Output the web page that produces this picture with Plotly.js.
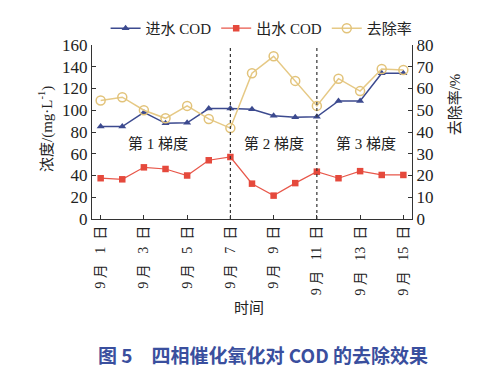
<!DOCTYPE html>
<html>
<head>
<meta charset="utf-8">
<script src="https://cdn.plot.ly/plotly-3.0.1.min.js"></script>
<style>html,body{margin:0;padding:0;background:#fff;}#chart{width:489px;height:379px;}</style>
</head>
<body>
<div id="chart"></div>
<script>
const days = [1,2,3,4,5,6,7,8,9,10,11,12,13,14,15];
const tickDays = [1,3,5,7,9,11,13,15];
const tickLabels = tickDays.map(d => '9\u00a0月\u00a0\u00a0\u00a0' + d + '\u00a0\u00a0日');
const inflowCOD = [85,85,98,88,88.5,101.5,101.5,101,95,93.5,94,108.5,108.5,134,134];
const outflowCOD = [37.5,36.5,47.5,46,40,54,57,32.5,21.5,33,43.5,37.5,44,40.5,40.5];
const removalRate = [54.5,56,50,46.3,52,46,41.8,67,74.8,63.5,52,64.5,58.8,69,68.5];
const stageLabels = ['第 1 梯度','第 2 梯度','第 3 梯度'];
const stageX = [3.65, 9.0, 13.25];
const stageBounds = [7, 11];

const serif = 'Liberation Serif, Noto Sans CJK SC, serif';
const traces = [
  {x: days, y: inflowCOD, name: '进水 COD', type: 'scatter', mode: 'lines+markers',
   line: {color: '#3c4a8f', width: 1.5}, marker: {symbol: 'triangle-up', size: 7, color: '#3c4a8f'}},
  {x: days, y: outflowCOD, name: '出水 COD', type: 'scatter', mode: 'lines+markers',
   line: {color: '#e8574a', width: 1.2}, marker: {symbol: 'square', size: 6.5, color: '#e5493c'}},
  {x: days, y: removalRate, name: '去除率', type: 'scatter', mode: 'lines+markers', yaxis: 'y2',
   line: {color: '#e6c985', width: 1.5}, marker: {symbol: 'circle-open', size: 9, color: '#e2c37a', line: {width: 1.5}}}
];

const shapes = stageBounds.map(v => ({type: 'line', xref: 'x', yref: 'paper', x0: v, x1: v, y0: 0, y1: 1,
  line: {color: '#333', width: 1.2, dash: 'dot'}}));

const annotations = stageLabels.map((t, i) => ({x: stageX[i], y: 69, xref: 'x', yref: 'y', text: t, showarrow: false,
  font: {family: serif, size: 15, color: '#222'}}));
annotations.push({xref: 'paper', yref: 'paper', x: -0.145, y: 0.515, xanchor: 'center', yanchor: 'middle',
  text: '浓度/(mg·L<sup>-1</sup>)', textangle: -90,
  showarrow: false, font: {family: serif, size: 15, color: '#222'}});
annotations.push({xref: 'paper', yref: 'paper', x: 1.135, y: 0.66, xanchor: 'center', yanchor: 'middle',
  text: '去除率/%', textangle: -90,
  showarrow: false, font: {family: serif, size: 15, color: '#222'}});
annotations.push({xref: 'paper', yref: 'paper', x: 0.49, y: -0.51, xanchor: 'center', yanchor: 'middle', text: '时间',
  showarrow: false, font: {family: serif, size: 15, color: '#222'}});
annotations.push({xref: 'paper', yref: 'paper', x: 0.535, y: -0.78, xanchor: 'center', yanchor: 'middle',
  text: '图 5\u3000四相催化氧化对 COD 的去除效果',
  showarrow: false, font: {family: 'Noto Sans CJK SC, Noto Sans, sans-serif', size: 19, color: '#3a4f9e', weight: 'bold'}});

const axisCommon = {showline: true, linecolor: '#333', linewidth: 1.2, ticks: 'inside', ticklen: 4, tickcolor: '#333',
  showgrid: false, zeroline: false, tickfont: {family: serif, size: 17, color: '#222'}};

const layout = {
  width: 489, height: 379,
  margin: {l: 92, r: 77, t: 35, b: 160},
  paper_bgcolor: '#fff', plot_bgcolor: '#fff',
  showlegend: true,
  legend: {orientation: 'h', x: 0.53, xanchor: 'center', y: 1.19, yanchor: 'top',
    font: {family: serif, size: 15, color: '#222'}, itemwidth: 30, tracegroupgap: 0},
  xaxis: Object.assign({}, axisCommon, {range: [0.6, 15.4], tickvals: tickDays, ticktext: tickLabels,
    tickangle: -90, tickfont: {family: serif, size: 14, color: '#222'}}),
  yaxis: Object.assign({}, axisCommon, {range: [0, 160], dtick: 20, tick0: 0}),
  yaxis2: Object.assign({}, axisCommon, {range: [0, 80], dtick: 10, tick0: 0, overlaying: 'y', side: 'right'}),
  shapes: shapes,
  annotations: annotations
};

Plotly.newPlot('chart', traces, layout, {displayModeBar: false, staticPlot: true});
</script>
</body>
</html>
